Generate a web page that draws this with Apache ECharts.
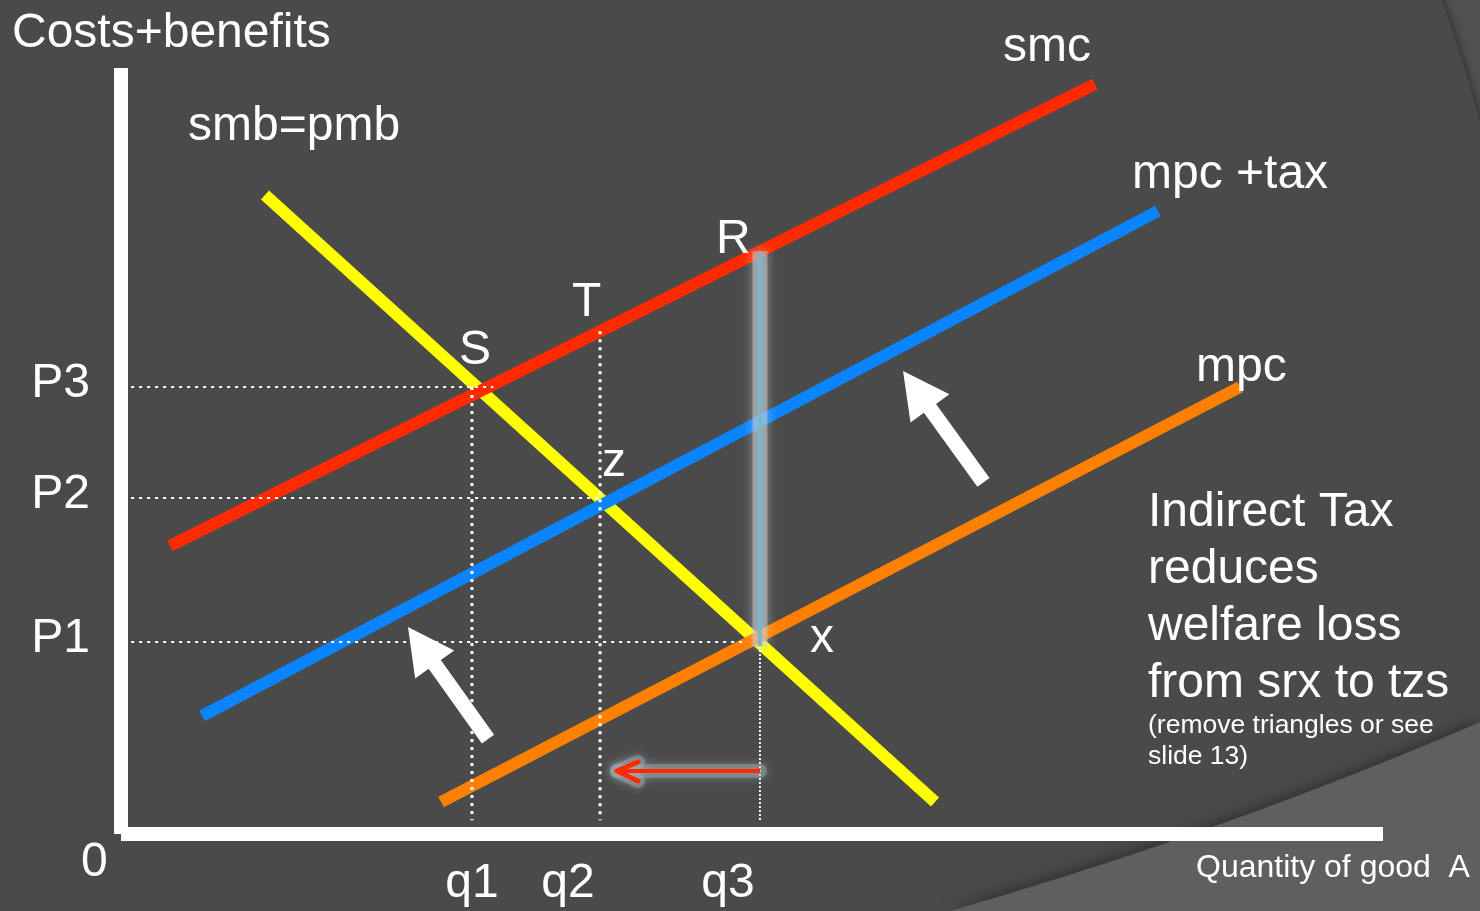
<!DOCTYPE html>
<html>
<head>
<meta charset="utf-8">
<script src="https://cdn.jsdelivr.net/npm/echarts@6/dist/echarts.min.js"></script>
<style>
  html, body { margin: 0; padding: 0; background: #4a4a4a; }
  #chart { width: 1480px; height: 911px; }
</style>
</head>
<body>
<div id="chart"></div>
<script>
// Curves as straight lines: [quantity, cost] at each end
const smbPmb = [[11.41, 83.42], [64.50, 4.18]];
const smc    = [[3.88, 37.60], [77.18, 97.91]];
const mpcTax = [[6.42, 15.40], [82.17, 81.33]];
const mpc    = [[25.36, 4.18], [88.67, 58.36]];

// Quantity and price tick marks
const qTicks  = ['q1', 'q2', 'q3'];
const qValues = [27.81, 37.96, 50.63];
const pTicks  = ['P1', 'P2', 'P3'];
const pValues = [25.07, 43.86, 58.36];

// Output cut from q3 back towards q2 (tail -> head)
const outputCut = [[50.63, 8.22], [39.30, 8.22]];
// Supply shift arrows: [tailX, tailY, tipX, tipY]
const shiftArrows = [[29.08, 12.40, 22.74, 27.02], [68.34, 45.89, 61.97, 60.44]];

const FONT = '"Liberation Sans", Arial, Helvetica, sans-serif';
const WHITE = '#ffffff';

// height of a straight curve at quantity x
function valueOn(line, x) {
  const [[x0, y0], [x1, y1]] = line;
  return y0 + (y1 - y0) * (x - x0) / (x1 - x0);
}

const [q1, q2, q3] = qValues;
const [p1, p2, p3] = pValues;
const wall = 0.8, floor = 1.8;

// dotted guide lines linking prices and quantities
const guides = [
  { pts: [[wall, p3], [29.5, p3]], w: 2, dash: [3, 5] },
  { pts: [[wall, p2], [q2, p2]], w: 2, dash: [3, 5] },
  { pts: [[-1.1, p1], [49.5, p1]], w: 2, dash: [3, 5] },
  { pts: [[q1, p3], [q1, floor]], w: 3, dash: [3, 5] },
  { pts: [[q2, valueOn(smc, q2)], [q2, floor]], w: 3, dash: [3, 5] },
  { pts: [[q3, p1], [q3, floor]], w: 2, dash: [2, 2] }
];

function plain(data, style, z) {
  return {
    type: 'line', data, symbol: 'none', showSymbol: false, silent: true,
    clip: false, z, lineStyle: style
  };
}

const curveSeries = [
  plain(smbPmb, { color: '#ffff00', width: 12, cap: 'butt' }, 2),
  plain(smc,    { color: '#ff2a00', width: 12, cap: 'butt' }, 2),
  plain(mpcTax, { color: '#0a84ff', width: 12, cap: 'butt' }, 2),
  plain(mpc,    { color: '#ff7f00', width: 12, cap: 'butt' }, 2)
];

const guideSeries = guides.map(g =>
  plain(g.pts, { color: WHITE, width: g.w, type: g.dash, cap: 'butt' }, 3));

// welfare-loss gap at q3, drawn as a glowing rod from R to x
const gap = [[q3, valueOn(smc, q3)], [q3, p1 - 0.6]];
const gapSeries = [
  plain(gap, { color: 'rgba(195,205,209,0.5)', width: 15, cap: 'butt',
               shadowBlur: 12, shadowColor: 'rgba(215,225,230,0.9)' }, 4),
  plain(gap, { color: '#7bb8cc', width: 4, cap: 'butt' }, 4)
];

// red arrow: shaft plus an open chevron at the head
const [cutFrom, cutTo] = outputCut;
const chevron = [[cutTo[0] + 1.67, cutTo[1] + 1.18], cutTo, [cutTo[0] + 1.67, cutTo[1] - 1.30]];
const glowStyle = { color: 'rgba(165,180,185,0.4)', width: 14, cap: 'round', join: 'round',
                    shadowBlur: 10, shadowColor: 'rgba(190,205,210,0.9)' };
const cutSeries = [
  plain([cutFrom, cutTo], glowStyle, 5),
  plain(chevron, glowStyle, 5),
  plain([cutFrom, cutTo], { color: '#ff2a00', width: 4, cap: 'butt' }, 6),
  plain(chevron, { color: '#ff2a00', width: 5, cap: 'round', join: 'round' }, 6)
];

// thick white block arrows
const arrowSeries = {
  type: 'custom', silent: true, z: 7,
  encode: { x: [0, 2], y: [1, 3] },
  data: shiftArrows,
  renderItem(params, api) {
    const t = api.coord([api.value(0), api.value(1)]);
    const h = api.coord([api.value(2), api.value(3)]);
    const dx = h[0] - t[0], dy = h[1] - t[1];
    const len = Math.hypot(dx, dy);
    const ux = dx / len, uy = dy / len;
    const nx = -uy, ny = ux;
    const hw = 7.5, HW = 24, headLen = 46;
    const neck = [h[0] - ux * headLen, h[1] - uy * headLen];
    const pts = [
      [t[0] + nx * hw, t[1] + ny * hw],
      [neck[0] + nx * hw, neck[1] + ny * hw],
      [neck[0] + nx * HW, neck[1] + ny * HW],
      h,
      [neck[0] - nx * HW, neck[1] - ny * HW],
      [neck[0] - nx * hw, neck[1] - ny * hw],
      [t[0] - nx * hw, t[1] - ny * hw]
    ];
    return { type: 'polygon', shape: { points: pts }, style: { fill: WHITE } };
  }
};

function txt(text, x, y, size, extra) {
  return {
    type: 'text', x, y, z: 20, silent: true,
    style: Object.assign({
      text, fill: WHITE, fontSize: size, fontFamily: FONT,
      align: 'left', verticalAlign: 'middle'
    }, extra || {})
  };
}

// lighter lower-right panel of the slide backdrop (quadratic edge, sampled)
function panelPoints() {
  const a = [950, 911], c = [1230, 830], b = [1480, 722];
  const pts = [];
  for (let i = 0; i <= 40; i++) {
    const t = i / 40, u = 1 - t;
    pts.push([u * u * a[0] + 2 * u * t * c[0] + t * t * b[0],
              u * u * a[1] + 2 * u * t * c[1] + t * t * b[1]]);
  }
  pts.push([1480, 911]);
  return pts;
}

const labelIndex = (arr, v) => arr.findIndex(a => Math.abs(a - v) < 1e-6);

const option = {
  backgroundColor: '#505050',
  animation: false,
  grid: { left: 121, right: 97, top: 68, bottom: 77, containLabel: false },
  xAxis: {
    type: 'value', min: 0, max: 100, z: 10,
    axisLine: { show: true, onZero: false, lineStyle: { color: WHITE, width: 14, cap: 'butt' } },
    axisTick: { show: false },
    splitLine: { show: false },
    axisLabel: {
      customValues: qValues,
      margin: 50,
      verticalAlign: 'middle',
      formatter: v => {
        const i = labelIndex(qValues, v);
        if (i < 0) return '';
        return i === 0 ? '{c|' + qTicks[i] + '}' : '{l|' + qTicks[i] + '}';
      },
      rich: {
        c: { color: WHITE, fontSize: 48, fontFamily: FONT },
        l: { color: WHITE, fontSize: 48, fontFamily: FONT, padding: [0, 64, 0, 0] }
      }
    }
  },
  yAxis: {
    type: 'value', min: 0, max: 100, z: 10,
    axisLine: { show: true, onZero: false, lineStyle: { color: WHITE, width: 14, cap: 'butt' } },
    axisTick: { show: false },
    splitLine: { show: false },
    axisLabel: {
      customValues: pValues,
      margin: 31,
      verticalAlign: 'middle',
      formatter: v => {
        const i = labelIndex(pValues, v);
        return i < 0 ? '' : '{p|' + pTicks[i] + '}';
      },
      rich: {
        p: { color: WHITE, fontSize: 48, fontFamily: FONT, padding: [0, 0, 6, 0] }
      }
    }
  },
  graphic: [
    { type: 'circle', z: -5, silent: true, shape: { cx: 188, cy: 455, r: 1334 },
      style: { fill: '#4a4a4a', shadowBlur: 10, shadowColor: 'rgba(0,0,0,0.55)' } },
    { type: 'polygon', z: -4, silent: true,
      shape: { points: panelPoints() },
      style: { fill: '#5f5f5f', shadowBlur: 16, shadowColor: 'rgba(0,0,0,0.5)' } },

    txt('Costs+benefits', 12, 34, 48),
    txt('smb=pmb', 188, 127, 48),
    txt('smc', 1003, 48, 48),
    txt('mpc +tax', 1132, 175, 48),
    txt('mpc', 1196, 368, 48),
    txt('R', 716, 240, 48),
    txt('T', 572, 303, 48),
    txt('S', 459, 351, 48),
    txt('z', 602, 463, 48),
    txt('x', 810, 639, 48),
    txt('0', 81, 863, 48),
    txt('Quantity of good  A', 1196, 868, 32),
    txt('Indirect Tax\nreduces\nwelfare loss\nfrom srx to tzs', 1148, 484.5, 48,
        { verticalAlign: 'top', lineHeight: 57 }),
    txt('(remove triangles or see\nslide 13)', 1148, 710.5, 26.5,
        { verticalAlign: 'top', lineHeight: 31 })
  ],
  series: [].concat(curveSeries, guideSeries, gapSeries, cutSeries, [arrowSeries])
};

const chart = echarts.init(document.getElementById('chart'), null, { renderer: 'canvas' });
chart.setOption(option);
</script>
</body>
</html>
